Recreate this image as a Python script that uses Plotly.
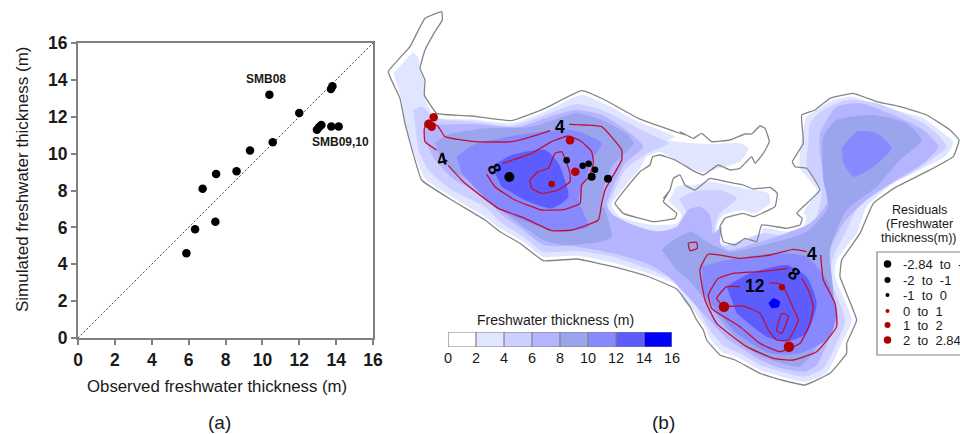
import plotly.graph_objects as go

# ---------- panel (a) data ----------
observed = [5.88, 6.35, 7.45, 6.76, 7.49, 8.6, 9.33, 10.56, 10.38, 12.0, 12.96, 13.08, 13.2, 13.74, 14.14, 13.72, 13.8]
simulated = [4.6, 5.9, 6.3, 8.1, 8.9, 9.05, 10.17, 10.62, 13.2, 12.2, 11.3, 11.45, 11.55, 11.47, 11.47, 13.5, 13.65]
axis_ticks = [0, 2, 4, 6, 8, 10, 12, 14, 16]

# ---------- panel (b) map data, image-based map units ----------
def z2(p): return [(385 + x / 3, y / 3) for x, y in p]
def z3(p): return [(660 + x / 3, 60 + y / 3) for x, y in p]
def z5(p): return [(500 + x / 3, 190 + y / 3) for x, y in p]
def z6(p): return [(640 + x / 3, 110 + y / 3) for x, y in p]
def z7(p): return [(700 + x / 3, 330 + y / 3) for x, y in p]

outline = (
    z2([(170, 35), (172, 60), (150, 95), (120, 150), (105, 205), (120, 240), (118, 285), (155, 340), (260, 348),
        (380, 362), (480, 325), (590, 272), (660, 300), (760, 355), (900, 405)])
    + z6([(120, 65), (160, 85), (185, 70), (215, 95), (270, 90), (315, 72), (335, 72), (360, 48), (375, 55), (388, 95),
          (370, 130), (345, 160), (335, 140), (300, 175), (270, 180), (235, 165), (190, 195), (165, 185), (105, 150),
          (60, 135), (38, 140), (30, 165), (0, 185)])
    + z5([(345, 40), (370, 70), (460, 95), (525, 85), (530, 70), (490, 35), (510, 0)])
    + z6([(70, 265), (90, 240), (100, 205), (120, 195), (135, 225), (165, 240), (210, 205), (260, 215), (310, 225),
          (340, 237), (390, 232), (412, 250), (405, 290), (340, 320), (310, 310), (255, 325), (240, 350), (250, 395),
          (285, 405), (315, 385), (350, 395), (365, 345), (440, 355), (480, 345), (487, 325), (470, 310), (540, 240),
          (500, 175), (465, 170), (457, 155), (490, 100), (485, 15), (525, 0)])
    + z3([(510, 115), (580, 100), (650, 125), (720, 140), (800, 165), (870, 210), (897, 240), (880, 290), (800, 335),
          (710, 380), (640, 430), (600, 520), (545, 600), (540, 650), (590, 780), (560, 850)])
    + z7([(440, 70), (390, 130), (315, 165), (245, 150), (180, 130), (105, 90), (60, 75), (20, 30), (10, 0)])
    + z5([(590, 390), (570, 350), (530, 297), (440, 258), (340, 230), (230, 207), (130, 212), (60, 160), (0, 125)])
    + z2([(300, 660), (200, 600), (110, 540), (60, 370), (45, 295), (10, 215), (75, 140), (120, 55)])
)
band_2_4 = (
    z2([(85, 155), (100, 175), (105, 210), (118, 245), (118, 290), (150, 350), (260, 358), (380, 370), (480, 335),
        (590, 285), (660, 312), (760, 365), (870, 410)])
    + z6([(85, 90), (200, 102), (300, 100), (325, 115), (300, 155), (235, 175), (190, 187), (110, 155), (60, 125),
          (20, 140), (0, 175)])
    + z5([(335, 45), (360, 80), (460, 105), (530, 100), (545, 75), (500, 30)])
    + z6([(85, 275), (110, 230), (160, 225), (210, 215), (310, 235), (385, 250), (390, 280), (340, 310), (310, 300),
          (250, 315), (230, 350), (240, 395), (285, 412), (350, 405), (370, 355), (440, 365), (490, 350), (500, 320),
          (490, 310), (530, 240), (480, 175), (480, 130), (500, 20), (530, 0)])
    + z3([(520, 120), (580, 110), (650, 135), (790, 175), (850, 220), (880, 245), (860, 285), (790, 325), (700, 370),
          (620, 440), (590, 520), (530, 600), (525, 650), (575, 780), (545, 850)])
    + z7([(380, 128), (315, 155), (245, 140), (180, 120), (110, 80), (65, 65), (30, 25), (20, 0)])
    + z5([(580, 360), (555, 340), (530, 285), (440, 248), (340, 218), (230, 197), (130, 200), (70, 155), (0, 115)])
    + z2([(300, 650), (200, 590), (120, 535), (60, 370), (50, 300), (25, 220)])
)
band_4_6 = (
    z2([(85, 330), (110, 320), (155, 355), (270, 365), (380, 378), (480, 345), (575, 312), (650, 330), (780, 395),
        (850, 430), (790, 458), (720, 510), (690, 570), (668, 620)])
    + z5([(325, 60), (360, 95), (450, 120), (530, 120), (560, 70), (540, 30)])
    + z6([(120, 265), (160, 245), (240, 240), (290, 265), (240, 310), (225, 350), (235, 410), (370, 370), (440, 380),
          (500, 360), (530, 320), (545, 240), (500, 170), (505, 100), (510, 40), (550, 0)])
    + z3([(560, 120), (650, 130), (790, 190), (840, 230), (860, 260), (840, 280), (770, 330), (680, 380), (600, 430),
          (560, 510), (520, 590), (510, 650), (555, 780), (530, 850)])
    + z7([(370, 115), (315, 140), (245, 125), (180, 105), (120, 70), (75, 50), (40, 15), (30, 0)])
    + z5([(570, 320), (520, 270), (440, 235), (340, 200), (230, 183), (130, 185), (70, 140), (0, 95)])
    + z2([(300, 620), (200, 570), (130, 510), (100, 450)])
)
band_6_8 = (
    z2([(120, 375), (270, 372), (400, 382), (480, 355), (570, 330), (650, 345), (730, 395), (775, 440), (720, 490),
        (680, 570)])
    + z5([(320, 45), (340, 75), (400, 105), (470, 125), (530, 110), (565, 60), (600, 50), (630, 75), (640, 130)])
    + z3([(185, 500), (180, 550), (205, 570), (300, 545), (350, 530), (450, 490), (500, 430), (480, 280), (480, 220),
          (530, 140), (600, 130), (700, 165), (790, 210), (835, 260), (790, 310), (700, 365), (620, 420), (550, 490),
          (510, 570), (500, 650), (535, 770), (510, 830)])
    + z7([(350, 105), (315, 125), (245, 115), (180, 90), (125, 55), (85, 30), (55, 0)])
    + z5([(545, 300), (500, 255), (440, 220), (340, 190), (230, 170), (130, 165), (70, 120), (0, 70)])
    + z2([(300, 590), (210, 540), (150, 480), (120, 420)])
)
band_8_10_west = (
    z2([(150, 430), (185, 405), (300, 385), (440, 380), (575, 340), (650, 360), (730, 405), (745, 430), (730, 450),
        (680, 500), (650, 590), (650, 625)])
    + z5([(310, 50), (335, 140), (300, 155), (200, 165), (130, 150), (0, 55)])
    + z2([(300, 570), (215, 520), (170, 480)])
)
band_8_10_east = (
    z5([(485, 180), (520, 150), (575, 125), (620, 155)])
    + z3([(210, 575), (310, 555), (440, 515), (505, 440), (490, 360), (490, 230), (530, 180), (640, 165), (740, 190),
          (785, 240), (720, 300), (650, 380), (560, 450), (510, 570), (520, 720), (470, 860)])
    + z7([(300, 110), (245, 100), (180, 78), (130, 45), (100, 15), (85, 0)])
    + z5([(575, 280), (530, 240)])
)
band_10_12_west = z2([(215, 470), (265, 435), (400, 405), (560, 390), (650, 430), (620, 480), (600, 540), (580, 600),
                      (610, 680), (500, 690), (330, 620), (230, 520)])
band_10_12_south = z3([(125, 620), (200, 600), (350, 580), (440, 590), (500, 660), (530, 750), (510, 830), (420, 880),
                       (330, 880), (230, 820), (130, 700)])
band_10_12_east = z3([(545, 265), (590, 215), (650, 220), (695, 265), (640, 320), (580, 350), (550, 310)])
band_12_14_west = z2([(320, 500), (380, 465), (480, 450), (520, 490), (550, 590), (500, 625), (420, 600), (350, 560)])
band_12_14_south = z3([(200, 680), (270, 640), (380, 615), (440, 650), (470, 730), (440, 820), (380, 845), (320, 830),
                       (230, 760)])
band_14_16 = z3([(325, 730), (340, 715), (360, 725), (355, 742), (335, 745)])

band_colors = ["#FFFFFF", "#E0E6FF", "#CCCFFF", "#B4B4FF", "#9AA5EE", "#8888FF", "#5C5CFF", "#0000FF"]
map_fills = [
    (outline, band_colors[0]), (band_2_4, band_colors[1]), (band_4_6, band_colors[2]), (band_6_8, band_colors[3]),
    (band_8_10_west, band_colors[4]), (band_8_10_east, band_colors[4]),
    (band_10_12_west, band_colors[5]), (band_10_12_south, band_colors[5]), (band_10_12_east, band_colors[5]),
    (band_12_14_west, band_colors[6]), (band_12_14_south, band_colors[6]), (band_14_16, band_colors[7]),
]

contours = [
    z2([(495, 392), (440, 410), (380, 425), (270, 425), (180, 410), (160, 380), (130, 360), (118, 385), (120, 425), (155, 450)]),
    z2([(190, 497), (240, 550), (340, 625), (420, 655), (500, 692), (560, 690), (640, 660), (650, 610), (660, 570),
        (710, 480), (710, 450), (650, 380), (600, 375), (552, 373)]),
    z2([(352, 490), (440, 460), (500, 425), (550, 408), (590, 425), (620, 455), (625, 490), (612, 530), (590, 555),
        (585, 610), (540, 628), (470, 630), (390, 600), (330, 560), (305, 523)]),
    z2([(435, 540), (460, 515), (490, 505), (510, 460), (530, 455), (545, 490), (555, 520), (555, 545), (520, 570),
        (470, 580), (440, 565), (435, 540)]),
    z3([(85, 550), (110, 547), (112, 565), (90, 572), (85, 550)]),
    z3([(440, 575), (400, 568), (330, 585), (240, 595), (145, 582), (120, 628), (135, 720), (170, 790), (260, 860),
        (340, 895), (400, 900), (470, 875), (530, 800), (525, 730), (490, 660), (482, 585)]),
    z3([(385, 625), (300, 635), (220, 640), (175, 655), (145, 705), (155, 745), (240, 800), (300, 850), (360, 875),
        (420, 850), (450, 790), (460, 740), (445, 690), (425, 655)]),
    z3([(240, 680), (200, 680), (170, 715), (190, 738), (250, 738), (300, 760), (325, 810), (350, 840), (385, 840),
        (415, 780), (400, 745), (375, 690), (360, 672), (328, 668)]),
    z3([(365, 760), (385, 768), (365, 820), (350, 812), (365, 760)]),
]
contour_labels = [
    (z2([(525, 380)])[0], "4", 0), (z2([(172, 478)])[0], "4", -15), (z2([(328, 508)])[0], "8", 65),
    (z3([(457, 582)])[0], "4", 0), (z3([(403, 642)])[0], "8", 40), (z3([(285, 677)])[0], "12", 0),
]

residual_points = (
    [(p, "#000000", 10) for p in z2([(373, 531)])]
    + [(p, "#000000", 8) for p in z2([(620, 530), (669, 536)])]
    + [(p, "#000000", 6.5) for p in z2([(545, 481), (593, 497), (611, 491), (630, 509)])]
    + [(p, "#B00000", 8.5) for p in z2([(146, 352), (130, 372), (140, 380), (555, 421), (571, 515)])]
    + [(p, "#B00000", 6.5) for p in z2([(500, 552)]) + z3([(366, 682)])]
    + [(p, "#B00000", 10.5) for p in z3([(192, 740), (387, 860)])]
)

legend_title = ["Residuals", "(Freshwater", "thickness(m))"]
legend_labels = ["-2.84\u00a0 to\u00a0 -2", "-2\u00a0 to\u00a0 -1", "-1\u00a0 to\u00a0 0", "0\u00a0 to\u00a0 1", "1\u00a0 to\u00a0 2", "2\u00a0 to\u00a0 2.84"]
legend_colors = ["#000000", "#000000", "#000000", "#B00000", "#B00000", "#B00000"]
legend_sizes = [7.5, 6, 4, 4, 6, 7.5]
legend_y = [264, 280, 295, 311, 325, 340]

colorbar_centres = [1, 3, 5, 7, 9, 11, 13, 15]

FONT = "Liberation Sans"
DARK = "#1a1a1a"
GREY = "#808080"

fig = go.Figure()

# map layers on a full-canvas axis pair
for i, (poly, color) in enumerate(map_fills):
    fig.add_trace(go.Scatter(x=[p[0] for p in poly], y=[p[1] for p in poly], mode="lines", fill="toself",
                             fillcolor=color, line=dict(width=0, color=color, shape="spline", smoothing=0.3 if i == 0 else 0.6),
                             xaxis="x2", yaxis="y2", hoverinfo="skip"))
fig.add_trace(go.Scatter(x=[p[0] for p in outline + outline[:1]], y=[p[1] for p in outline + outline[:1]], mode="lines",
                         line=dict(width=1.3, color="#858585", shape="spline", smoothing=0.3), xaxis="x2", yaxis="y2", hoverinfo="skip"))
for c in contours:
    fig.add_trace(go.Scatter(x=[p[0] for p in c], y=[p[1] for p in c], mode="lines",
                             line=dict(width=1.3, color="#C01030", shape="spline", smoothing=0.4), xaxis="x2", yaxis="y2", hoverinfo="skip"))
fig.add_trace(go.Scatter(x=[r[0][0] for r in residual_points], y=[r[0][1] for r in residual_points], mode="markers",
                         marker=dict(color=[r[1] for r in residual_points], size=[r[2] for r in residual_points],
                                     opacity=1, line=dict(width=0)),
                         xaxis="x2", yaxis="y2", hoverinfo="skip"))
# residual legend
fig.add_trace(go.Scatter(x=[962, 877, 877, 962], y=[252, 252, 355, 355], mode="lines",
                         line=dict(width=1.2, color="#808080"), xaxis="x2", yaxis="y2", cliponaxis=False, hoverinfo="skip"))
fig.add_trace(go.Scatter(x=[887.5] * 6, y=legend_y, mode="markers",
                         marker=dict(color=legend_colors, size=legend_sizes, opacity=1, line=dict(width=0)),
                         xaxis="x2", yaxis="y2", hoverinfo="skip"))

# panel (a)
fig.add_trace(go.Scatter(x=[0, 16], y=[0, 16], mode="lines", line=dict(color="#444444", width=1, dash="2px,2px"),
                         hoverinfo="skip"))
fig.add_trace(go.Scatter(x=observed, y=simulated, mode="markers", marker=dict(color="#000000", size=8.5, line=dict(width=0)), hoverinfo="skip"))

# colour bar
fig.add_trace(go.Bar(x=colorbar_centres, y=[1] * 8, width=2, marker=dict(color=band_colors, line=dict(width=0)),
                     xaxis="x3", yaxis="y3", hoverinfo="skip"))
frame_x, frame_y = [0, 16, 16, 0, 0, None], [0, 0, 1, 1, 0, None]
for t in axis_ticks[1:-1]:
    frame_x += [t, t, None]
    frame_y += [0, 1, None]
fig.add_trace(go.Scatter(x=frame_x, y=frame_y, mode="lines", line=dict(color="#808080", width=1.2), xaxis="x3", yaxis="y3",
                         cliponaxis=False, hoverinfo="skip"))

ann = []
def text(x, y, s, size=13, bold=False, angle=0, color=DARK, xanchor="center"):
    ann.append(dict(x=x, y=y, xref="x2", yref="y2", text=("<b>%s</b>" % s) if bold else s, showarrow=False, textangle=angle,
                    xanchor=xanchor, yanchor="middle", font=dict(family=FONT, size=size, color=color)))

text(266, 79, "SMB08", 12, True)
text(340, 142, "SMB09,10", 12, True)
text(217, 386, "Observed freshwater thickness (m)", 16.8)
text(22, 180, "Simulated freshwater thickness (m)", 17, False, -90)
text(219, 422, "(a)", 19)
text(663, 422, "(b)", 19)
text(555, 320, "Freshwater thickness (m)", 14)
for (pos, s, ang) in contour_labels:
    text(pos[0], pos[1], s, 17.5, True, ang, "#000000")
for i, t in enumerate(legend_title):
    text(919, 210 + i * 14, t, 12.6)
for yy, t in zip(legend_y, legend_labels):
    text(901, yy, t, 13, xanchor="left")

tick_font = dict(family=FONT, size=17.5, color=DARK, weight=700)
axis_common = dict(range=[0, 16], tickvals=axis_ticks, showgrid=False, zeroline=False, showline=True, linecolor=GREY,
                   linewidth=2, mirror=True, ticks="outside", ticklen=5, tickwidth=1.5, tickcolor=GREY, tickfont=tick_font)
fig.update_layout(
    width=960, height=434, autosize=False, margin=dict(l=0, r=0, t=0, b=0, pad=0, autoexpand=False), showlegend=False,
    paper_bgcolor="#FFFFFF", plot_bgcolor="rgba(0,0,0,0)", bargap=0, annotations=ann,
    xaxis=dict(domain=[78 / 960, 373 / 960], anchor="y", **axis_common),
    yaxis=dict(domain=[1 - 338 / 434, 1 - 43 / 434], anchor="x", **axis_common),
    xaxis2=dict(domain=[0, 1], range=[0, 960], visible=False, anchor="y2"),
    yaxis2=dict(domain=[0, 1], range=[434, 0], visible=False, anchor="x2"),
    xaxis3=dict(domain=[448 / 960, 672 / 960], range=[0, 16], tickvals=axis_ticks, anchor="y3", showgrid=False, zeroline=False,
                showline=False, ticks="", tickfont=dict(family=FONT, size=14.5, color=DARK)),
    yaxis3=dict(domain=[1 - 347 / 434, 1 - 332 / 434], range=[0, 1], visible=False, anchor="x3"),
)

fig.write_html("out.html", config=dict(displayModeBar=False),
               post_script="document.body.style.margin='0';document.body.style.overflow='hidden';")
